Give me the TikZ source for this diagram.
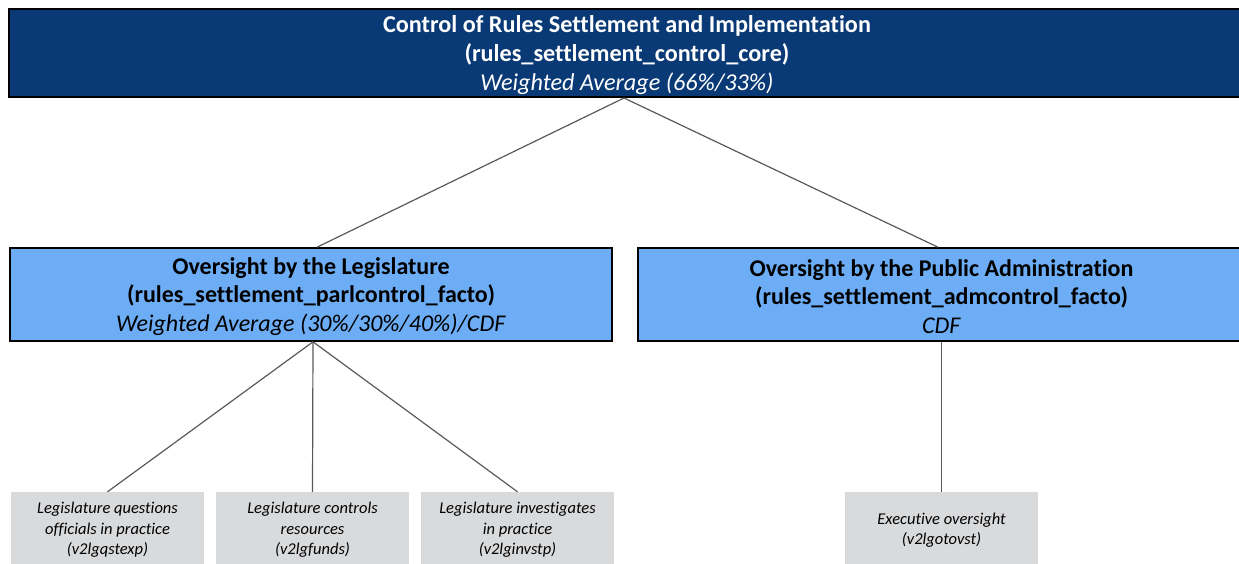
\documentclass[tikz,border=0pt]{standalone}
\usepackage{fontspec}
\setmainfont{Carlito}[Ligatures={NoCommon}]
\begin{document}
\begin{tikzpicture}[x=1pt,y=-1pt,
  rootbox/.style={draw=black,line width=2pt,fill=rootblue,text=white,font=\fontsize{24.2}{29}\selectfont,
    minimum width=1236pt,minimum height=88pt,align=center,inner sep=0pt},
  midbox/.style={draw=black,line width=1.6pt,fill=midblue,text=black,font=\fontsize{24}{28.5}\selectfont,
    minimum height=93pt,align=center,inner sep=0pt},
  leafbox/.style={fill=leafgray,draw=none,text=black,font=\fontsize{16.5}{20.5}\selectfont\itshape,
    minimum width=193pt,minimum height=76pt,align=center,inner sep=0pt},
  boxtext/.style={align=center,inner sep=0pt},
  link/.style={draw=linkgray,line width=1.2pt}]
\definecolor{rootblue}{RGB}{10,58,117}
\definecolor{midblue}{RGB}{108,173,245}
\definecolor{leafgray}{RGB}{217,218,220}
\definecolor{linkgray}{RGB}{89,89,89}
\useasboundingbox (0,0) rectangle (1239,563);

% root
\node[rootbox] (root) at (627,53) {};
\node[boxtext,text=white,font=\fontsize{24.2}{29}\selectfont] (roottxt) at ([yshift=-2pt]root.center)
  {\textbf{Control of Rules Settlement and Implementation}\\
  \textbf{(rules\_settlement\_control\_core)}\\ \textit{Weighted Average (66\%/33\%)}};

% second level
\node[midbox,minimum width=602pt] (legis) at (311,294.5) {};
\node[boxtext,font=\fontsize{24}{28.5}\selectfont] (legistxt) at ([yshift=-2pt]legis.center)
  {\textbf{Oversight by the Legislature}\\
  \textbf{(rules\_settlement\_parlcontrol\_facto)}\\ \textit{Weighted Average (30\%/30\%/40\%)/CDF}};
\node[midbox,minimum width=607pt] (admin) at (941.5,294.5) {};
\node[boxtext,font=\fontsize{24}{28.5}\selectfont] (admintxt) at ([yshift=-2pt]admin.center)
  {\textbf{Oversight by the Public Administration}\\
  \textbf{(rules\_settlement\_admcontrol\_facto)}\\ \textit{CDF}};

% indicators
\node[leafbox] (q) at (107.5,530) {Legislature questions\\ officials in practice\\ (v2lgqstexp)};
\node[leafbox] (f) at (312.5,530) {Legislature controls\\ resources\\ (v2lgfunds)};
\node[leafbox] (i) at (517.5,530) {Legislature investigates\\ in practice\\ (v2lginvstp)};
\node[leafbox] (e) at (941.5,530) {Executive oversight\\ (v2lgotovst)};

% connectors
\draw[link] ([xshift=-3pt]root.south) -- ([xshift=6pt]legis.north);
\draw[link] ([xshift=-3pt]root.south) -- ([xshift=-3.5pt]admin.north);
\draw[link] ([xshift=2pt]legis.south) -- (q.north);
\draw[link] ([xshift=2pt]legis.south) -- (f.north);
\draw[link] ([xshift=2pt]legis.south) -- (i.north);
\draw[link] (admin.south) -- (e.north);
\end{tikzpicture}
\end{document}
